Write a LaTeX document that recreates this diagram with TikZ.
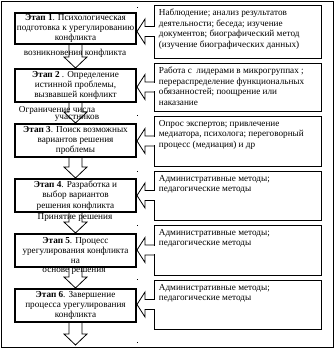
\documentclass[tikz,border=0pt]{standalone}
\usepackage{fontspec}
\setmainfont{Liberation Serif}
\usetikzlibrary{calc}

% hollow block arrow from the bottom of #1 down to the top of #2
\newcommand\hollowdown[2]{%
  \draw[hollow] ($(#1.south)+(-6.5,0)$) -- ($(#2.north)+(-6.5,-11)$)
    -- ($(#2.north)+(-11.5,-11)$) -- (#2.north) -- ($(#2.north)+(11.5,-11)$)
    -- ($(#2.north)+(6.5,-11)$) -- ($(#1.south)+(6.5,0)$);
}
% callout arrow from note #2 pointing left to stage #1
\newcommand\callout[2]{%
  \fill[white] ($(#2.west)+(-1,-4.4)$) rectangle ($(#2.west)+(0.7,4.4)$);
  \draw[hollow] ($(#2.west)+(0,-5)$) -- ($(#2.west)+(-9,-5)$)
    -- ($(#2.west)+(-9,-12.5)$) -- (#1.east |- #2.west) -- ($(#2.west)+(-9,12.5)$)
    -- ($(#2.west)+(-9,5)$) -- ($(#2.west)+(0,5)$);
}
\newcommand\notebox[2]{\parbox[c][#1][t]{158pt}{\raggedright #2}}

\begin{document}
\begin{tikzpicture}[
    x=1pt, y=-1pt,
    node distance=55pt,
    stage/.style={
        rectangle,
        draw=black,
        line width=2pt,
        fill=white,
        minimum width=121pt,
        minimum height=33pt,
        inner xsep=0pt,
        inner ysep=1pt,
        align=center,
        font=\fontsize{9.2}{10.2}\selectfont
    },
    note/.style={
        rectangle,
        draw=black,
        line width=0.8pt,
        anchor=west,
        inner xsep=4.5pt,
        inner ysep=4pt,
        font=\fontsize{9.2}{10.7}\selectfont
    },
    spill/.style={
        inner sep=0pt,
        font=\fontsize{9.2}{10.2}\selectfont
    },
    hollow/.style={
        draw=black,
        line width=0.8pt
    }
]

\useasboundingbox (0,0) rectangle (334,348);
\draw[line width=0.8pt] (1,1) rectangle (333,347);

% --- Stages (vertical stack) ---
\node[stage, minimum height=29pt] (A) at (75.5,28.5) {\textbf{Этап 1}. Психологическая\\подготовка к урегулированию\\конфликта};
\node[stage, below of=A, node distance=57pt] (B) {\textbf{Этап 2} . Определение\\истинной проблемы,\\вызвавшей конфликт};
\node[stage, below of=B] (C) {\textbf{Этап 3}. Поиск возможных\\вариантов решения\\проблемы};
\node[stage, below of=C] (D) {\textbf{Этап 4}. Разработка и\\выбор вариантов\\решения конфликта};
\node[stage, below of=D] (E) {\textbf{Этап 5}. Процесс\\урегулирования конфликта\\на};
\node[stage, below of=E] (F) {\textbf{Этап 6}. Завершение\\процесса урегулирования\\конфликта};
\coordinate (end) at ($(F.south)+(0,22)$);

% --- Text running out of hidden frames ---
\node[spill] (VA) at (75,53) {возникновения конфликта};
\node[spill] (VB) at (57,110) {Ограничение числа};
\node[spill] (VC) at (77,118.5) {участников};
\node[spill] (VD) at (75,217) {Принятие решения};
\node[spill] (VE) at (74,271) {основе решения};

% --- Arrows between stages ---
\hollowdown{A}{B}
\hollowdown{B}{C}
\hollowdown{C}{D}
\hollowdown{D}{E}
\hollowdown{E}{F}
\hollowdown{F}{end}

% --- Methods (right column) ---
\node[note] (NA) at (154,31.5) {\notebox{45pt}{Наблюдение; анализ результатов\\деятельности; беседа; изучение\\документов; биографический метод\\(изучение биографических данных)}};
\node[note] (NB) at (154,87) {\notebox{40pt}{Работа с\ \ лидерами в микрогруппах ;\\перераспределение функциональных\\обязанностей; поощрение или\\наказание}};
\node[note] (NC) at (154,141) {\notebox{42pt}{Опрос экспертов; привлечение\\медиатора, психолога; переговорный\\процесс (медиация) и др}};
\node[note] (ND) at (154,195.5) {\notebox{41pt}{Административные методы;\\педагогические методы}};
\node[note] (NE) at (154,250) {\notebox{42pt}{Административные методы;\\педагогические методы}};
\node[note] (NF) at (154,304.5) {\notebox{41pt}{Административные методы;\\педагогические методы}};

\callout{A}{NA}
\callout{B}{NB}
\callout{C}{NC}
\callout{D}{ND}
\callout{E}{NE}
\callout{F}{NF}

% --- Frame marks ---
\foreach \y in {7,115,171,225,279,342}
  \fill (136.5,\y) rectangle +(1,1.2);

\end{tikzpicture}
\end{document}
